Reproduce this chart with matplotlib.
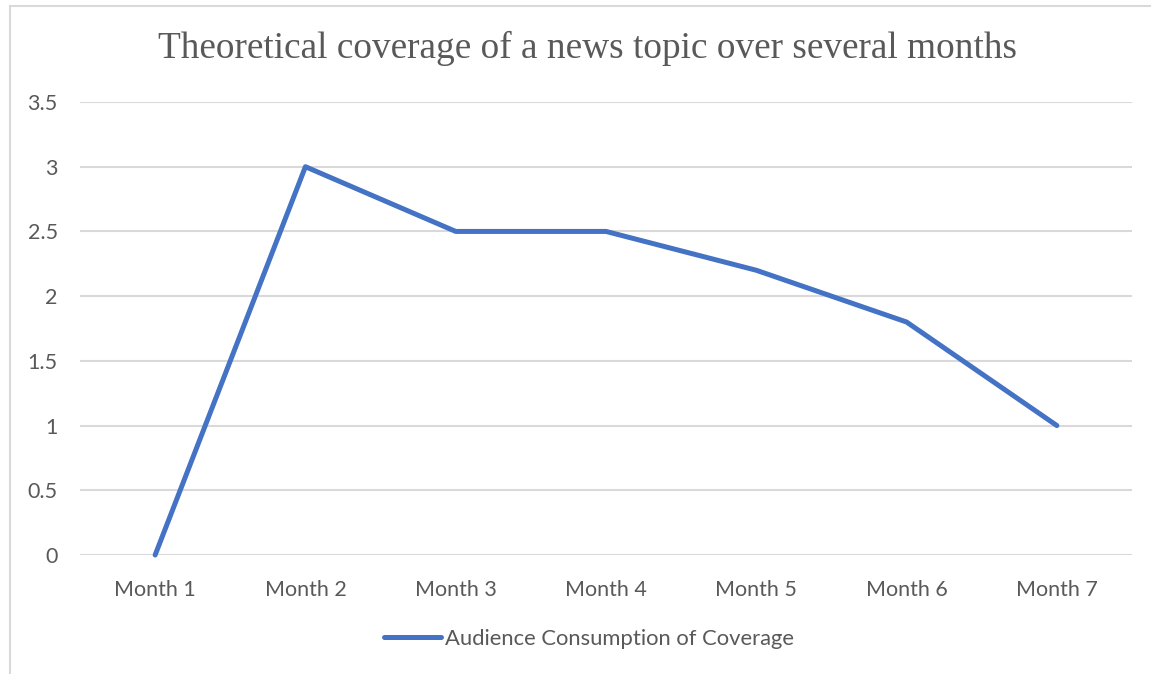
import matplotlib.pyplot as plt
from matplotlib.patches import Rectangle

months = ['Month 1', 'Month 2', 'Month 3', 'Month 4', 'Month 5', 'Month 6', 'Month 7']
consumption = [0, 3, 2.5, 2.5, 2.2, 1.8, 1]
yticks = [0, 0.5, 1, 1.5, 2, 2.5, 3, 3.5]
ytick_labels = ['0', '0.5', '1', '1.5', '2', '2.5', '3', '3.5']

W, H = 1151, 674
fig = plt.figure(figsize=(W / 100, H / 100), dpi=100)

# chart frame (right and bottom edges fall off the picture)
fig.patches.append(Rectangle((9.5 / W, -0.1), 1.2, 1 - 5.5 / H + 0.1,
                             transform=fig.transFigure, fill=False,
                             edgecolor='#D9D9D9', linewidth=1.5))

ax = fig.add_axes([80 / W, 1 - 555 / H, (1132 - 80) / W, (555 - 102) / H])
x = range(len(months))
line, = ax.plot(x, consumption, color='#4472C4', linewidth=3.6,
                solid_capstyle='round', solid_joinstyle='round',
                label='Audience Consumption of Coverage', zorder=3, clip_on=False)

ax.set_xlim(-0.5, 6.5)
ax.set_ylim(0, 3.5)
ax.set_yticks(yticks, ytick_labels)
ax.set_xticks(list(x), months)
ax.yaxis.grid(True, color='#D9D9D9', linewidth=1.5)
ax.set_axisbelow(True)
for s in ax.spines.values():
    s.set_visible(False)
ax.tick_params(length=0, labelsize=15.5, labelcolor='#595959')
ax.tick_params(axis='y', pad=16)
ax.tick_params(axis='x', pad=18)
for lab in ax.get_xticklabels() + ax.get_yticklabels():
    lab.set_family('Lato')

fig.text(587 / W, 1 - 48 / H, 'Theoretical coverage of a news topic over several months',
         ha='center', va='center', fontsize=26.8, color='#595959',
         family='Liberation Serif')

leg = fig.legend(handles=[line], loc='center', bbox_to_anchor=(589 / W, 1 - 639 / H),
                 frameon=False, handlelength=2.6, handletextpad=0.15,
                 prop={'family': 'Lato', 'size': 15.8}, labelcolor='#595959')
for h in leg.get_lines():
    h.set_solid_capstyle('round')

fig.savefig('out.png', dpi=100)
